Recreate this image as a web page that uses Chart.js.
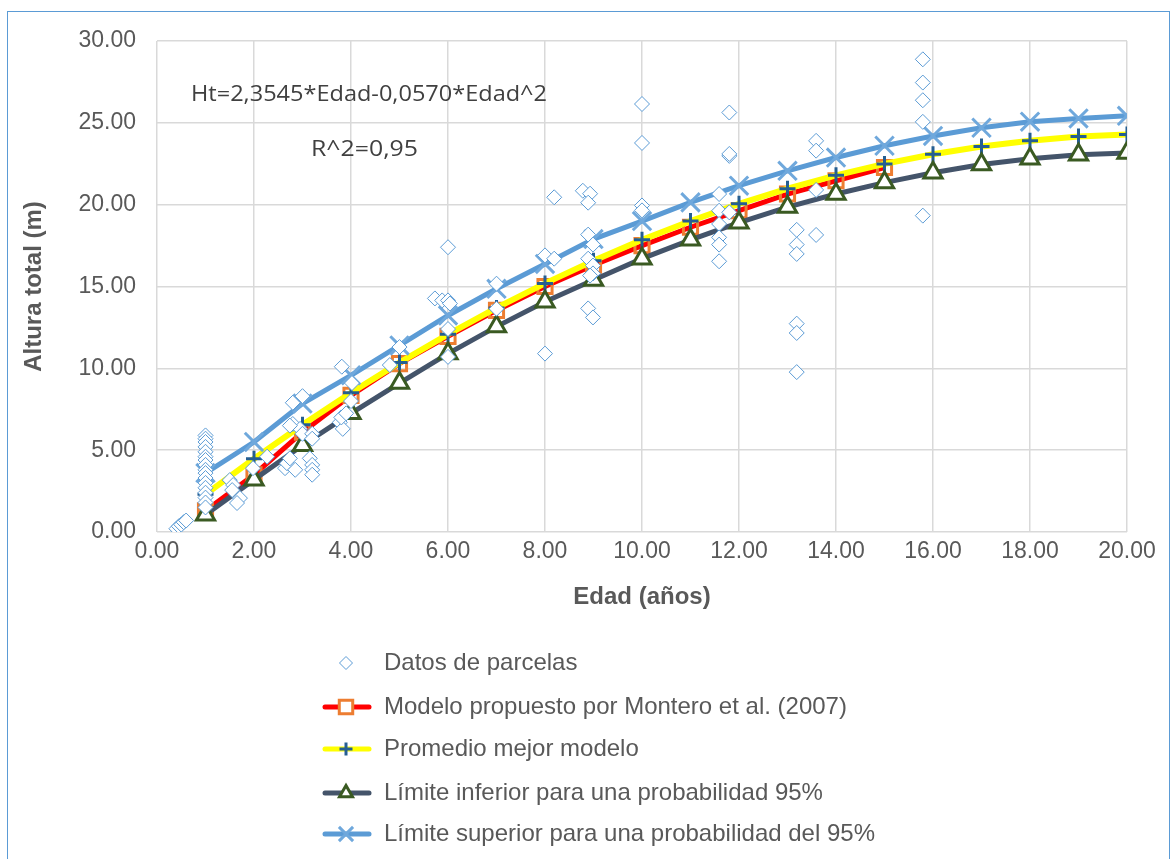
<!DOCTYPE html>
<html><head><meta charset="utf-8">
<script src="https://cdn.jsdelivr.net/npm/chart.js@4.4.1/dist/chart.umd.min.js"></script>
<style>
html,body{margin:0;padding:0;background:#fff;}
#frame{position:absolute;left:7px;top:11px;width:1163px;height:900px;border:1px solid #5B9BD5;box-sizing:border-box;}
#wrap{position:absolute;left:0;top:0;width:1176px;height:859px;}
</style></head><body>
<div id="frame"></div>
<div id="wrap"><canvas id="c"></canvas></div>
<script>
// ---- data ----
const parcelasEdad = [0.40,0.45,0.50,0.55,0.60,
  1,1,1,1,1,1,1,1,1,1,1,1,1,1,1,1,1,
  1.50,1.57,1.55,1.71,1.65,
  1.98,2.27,
  2.64,2.68,2.74,2.85,2.80,3.00,2.80,2.95,3.00,3.20,3.20,3.15,3.20,3.20,3.20,2.74,
  3.77,3.83,3.80,4.00,3.81,4.02,3.90,
  4.80,5.00,
  5.73,5.88,6.00,6.04,6.00,6.00,6.00,
  7.00,7.00,
  8.00,8.19,8.00,8.19,
  8.78,8.93,8.89,8.89,8.99,8.89,8.99,8.99,8.93,8.89,8.99,
  10,10,10,10,
  11.8,11.8,11.8,11.59,11.59,11.8,11.59,11.59,11.59,11.59,
  13.19,13.19,13.19,13.59,13.59,13.59,13.59,13.19,13.19,13.19,
  15.79,15.79,15.79,15.79,15.79];
const parcelasAltura = [0.20,0.35,0.45,0.60,0.70,
  5.9,5.7,5.5,5.2,4.9,4.6,4.4,4.1,3.8,3.6,3.3,3.0,2.7,2.4,2.1,1.8,1.5,
  3.17,2.87,2.56,2.07,1.77,
  3.90,4.60,
  3.90,4.20,4.50,3.80,7.90,8.30,6.60,6.30,6.00,6.00,5.70,4.50,4.10,3.80,3.50,6.50,
  6.70,6.30,7.00,8.00,10.10,9.10,7.25,
  10.20,11.30,
  14.27,14.15,14.15,13.96,12.40,10.70,17.40,
  15.17,13.64,
  16.90,16.70,10.90,20.45,
  20.85,20.67,20.12,18.17,17.56,16.70,16.28,15.80,15.67,13.66,13.11,
  26.15,23.77,19.95,19.65,
  25.63,22.98,23.10,20.65,19.63,19.53,18.82,18.00,17.56,16.54,
  18.46,17.56,16.99,18.15,23.90,23.30,20.90,12.73,12.16,9.77,
  28.88,27.46,26.38,25.06,19.33];

const edadMontero = [1,2,3,4,5,6,7,8,9,10,11,12,13,14,15];
const alturaMontero = [1.30,3.50,6.10,8.35,10.29,11.95,13.54,15.00,16.30,17.50,18.62,19.63,20.65,21.46,22.27];

const edadModelo = [1,2,3,4,5,6,7,8,9,10,11,12,13,14,15,16,17,18,19,20];
const alturaPromedio = [2.30,4.48,6.55,8.51,10.35,12.08,13.69,15.19,16.57,17.85,19.00,20.05,20.98,21.79,22.49,23.08,23.55,23.91,24.16,24.29];
const alturaInferior = [1.05,3.20,5.30,7.25,9.10,10.90,12.55,14.07,15.40,16.70,17.85,18.90,19.85,20.65,21.35,21.95,22.45,22.80,23.05,23.15];
const alturaSuperior = [3.60,5.50,7.85,9.57,11.40,13.23,14.86,16.38,17.90,19.00,20.14,21.16,22.07,22.88,23.60,24.20,24.70,25.07,25.27,25.43];

const xTicks = [0,2,4,6,8,10,12,14,16,18,20];
const yTicks = [0,5,10,15,20,25,30];

const nombres = ['Datos de parcelas','Modelo propuesto por Montero et al. (2007)','Promedio mejor modelo','Límite inferior para una probabilidad 95%','Límite superior para una probabilidad del 95%'];
const ecuacion = 'Ht=2,3545*Edad-0,0570*Edad^2';
const r2 = 'R^2=0,95';

// ---- build ----
const pts = (xs, ys) => xs.map((x,i)=>({x:x, y:ys[i]}));
const TXT = '#595959';
const FONT = 'Liberation Sans, Arial, sans-serif';

const datasets = [
  {label:nombres[0], data:pts(parcelasEdad,parcelasAltura), showLine:false, pointStyle:'rectRot', pointRadius:7.5,
   pointBorderColor:'#5B9BD5', pointBackgroundColor:'#ffffff', pointBorderWidth:1, order:0,
   lg:{style:'rectRot', r:6.5, color:'#5B9BD5', fill:'#fff', bw:1, line:null}},
  {label:nombres[1], data:pts(edadMontero,alturaMontero), showLine:true, borderColor:'#FF0000', borderWidth:5,
   pointStyle:'rect', pointRadius:10, pointBorderColor:'#ED7D31', pointBackgroundColor:'rgba(255,255,255,0)', pointBorderWidth:3, order:4,
   lg:{style:'rect', r:9.5, color:'#ED7D31', fill:'#fff', bw:3, line:'#FF0000'}},
  {label:nombres[2], data:pts(edadModelo,alturaPromedio), showLine:true, borderColor:'#FFFF00', borderWidth:6,
   pointStyle:'cross', pointRadius:8, pointBorderColor:'#255E91', pointBackgroundColor:'#255E91', pointBorderWidth:3, order:3,
   lg:{style:'cross', r:6.5, color:'#255E91', fill:'#255E91', bw:3, line:'#FFFF00'}},
  {label:nombres[3], data:pts(edadModelo,alturaInferior), showLine:true, borderColor:'#44546A', borderWidth:5,
   pointStyle:'triangle', pointRadius:10.5, pointBorderColor:'#3A5A22', pointBackgroundColor:'#ffffff', pointBorderWidth:3, order:2,
   lg:{style:'triangle', r:7.5, color:'#3A5A22', fill:'#fff', bw:3, line:'#44546A'}},
  {label:nombres[4], data:pts(edadModelo,alturaSuperior), showLine:true, borderColor:'#5B9BD5', borderWidth:5,
   pointStyle:'crossRot', pointRadius:13, pointBorderColor:'#6FA8DC', pointBackgroundColor:'#6FA8DC', pointBorderWidth:3, order:1,
   lg:{style:'crossRot', r:10, color:'#6FA8DC', fill:'#6FA8DC', bw:3, line:'#5B9BD5'}}
];

function fitText(ctx, text, x, y, width){
  const w = ctx.measureText(text).width;
  ctx.save();
  ctx.translate(x, y);
  ctx.scale(width / w, 1);
  ctx.fillText(text, 0, 0);
  ctx.restore();
}

const extras = {
  id:'extras',
  afterDraw(chart){
    const ctx = chart.ctx;
    ctx.save();
    // annotation
    ctx.fillStyle = '#404040';
    ctx.font = '22px "Open Sans", sans-serif';
    ctx.textBaseline = 'middle';
    ctx.textAlign = 'left';
    fitText(ctx, ecuacion, 191, 95, 356);
    fitText(ctx, r2, 311, 150, 107);
    // legend
    const ys = [663,707,749,793,834];
    datasets.forEach((d,i)=>{
      const y = ys[i];
      const lg = d.lg;
      if (lg.line){
        ctx.strokeStyle = lg.line; ctx.lineWidth = 5; ctx.lineCap='round';
        ctx.beginPath(); ctx.moveTo(325,y); ctx.lineTo(369,y); ctx.stroke();
      }
      ctx.lineCap='butt';
      ctx.strokeStyle = lg.color; ctx.fillStyle = lg.fill; ctx.lineWidth = lg.bw;
      Chart.helpers.drawPoint(ctx, {pointStyle:lg.style, radius:lg.r, rotation:0, borderWidth:lg.bw}, 346, y);
      ctx.fillStyle = TXT;
      ctx.font = '24px ' + FONT;
      ctx.textBaseline='middle'; ctx.textAlign='left';
      ctx.fillText(d.label, 384, y);
    });
    ctx.restore();
  }
};

new Chart(document.getElementById('c'), {
  type:'scatter',
  data:{datasets},
  options:{
    responsive:true, maintainAspectRatio:false, animation:false, devicePixelRatio:1,
    layout:{padding:{left:20,right:49,top:41,bottom:247}},
    plugins:{legend:{display:false}, tooltip:{enabled:false}},
    scales:{
      x:{type:'linear', min:0, max:20,
        afterBuildTicks:s=>{s.ticks = xTicks.map(v=>({value:v}));},
        ticks:{callback:v=>v.toFixed(2), font:{family:FONT,size:23}, color:TXT, padding:6, maxRotation:0, autoSkip:false},
        grid:{color:'#D9D9D9', lineWidth:1.5, drawTicks:false}, border:{display:false},
        title:{display:true, text:'Edad (años)', font:{family:FONT,size:24,weight:'bold'}, color:TXT, padding:{top:0,bottom:0}},
        afterFit:s=>{s.height=80;}},
      y:{type:'linear', min:0, max:30,
        afterBuildTicks:s=>{s.ticks = yTicks.map(v=>({value:v}));},
        ticks:{callback:v=>v.toFixed(2), font:{family:FONT,size:23}, color:TXT, padding:21, autoSkip:false},
        grid:{color:'#D9D9D9', lineWidth:1.5, drawTicks:false}, border:{display:false},
        title:{display:true, text:'Altura total (m)', font:{family:FONT,size:24,weight:'bold'}, color:TXT, padding:{top:0,bottom:0}},
        afterFit:s=>{s.width=137;}}
    }
  },
  plugins:[extras]
});
</script>
</body></html>
